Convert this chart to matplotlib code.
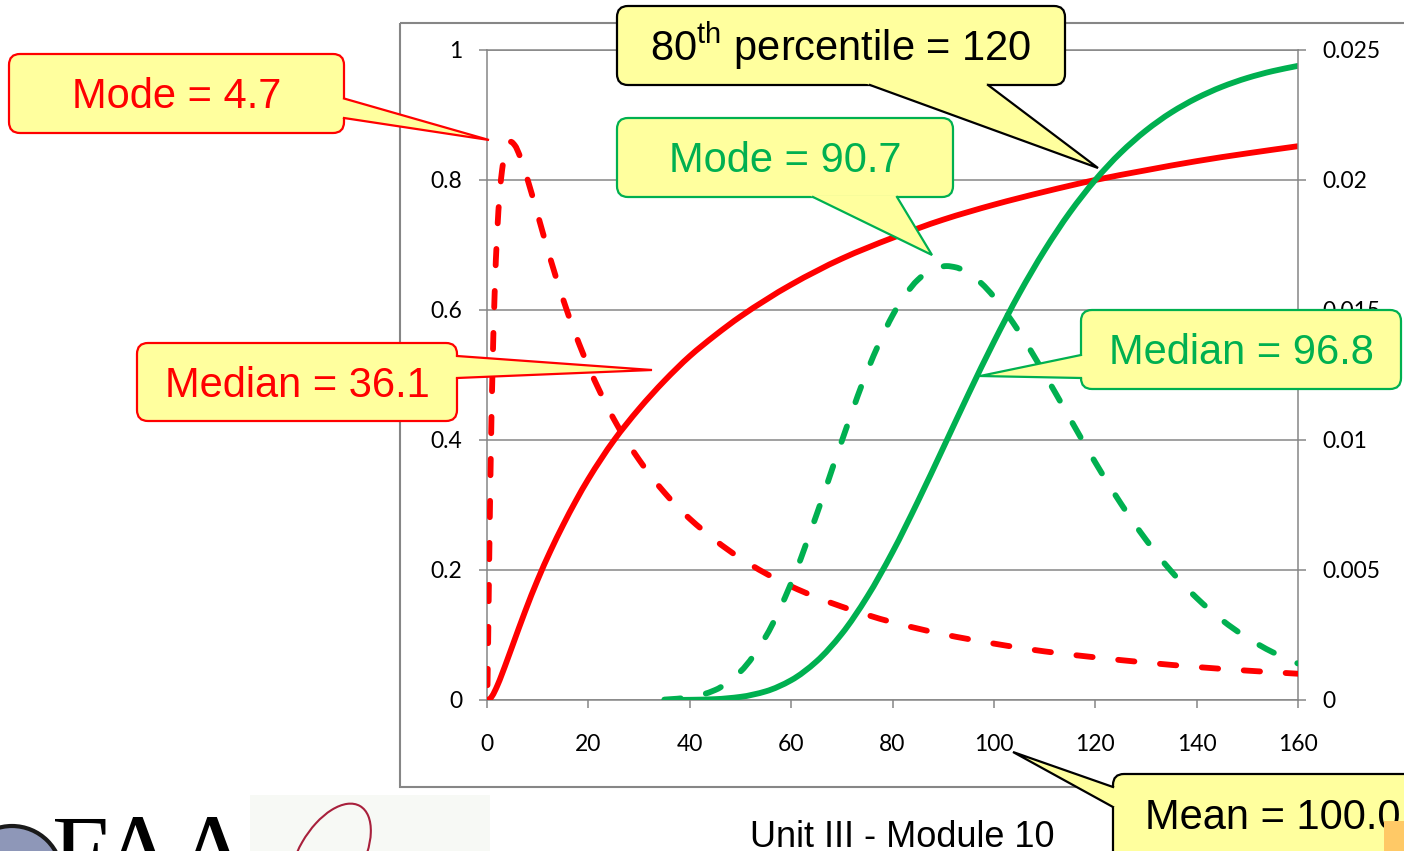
import matplotlib
matplotlib.use('Agg')
import matplotlib.pyplot as plt
import matplotlib.transforms as mtransforms
from matplotlib.patches import FancyBboxPatch, Polygon, Rectangle, Circle, Arc, PathPatch
from matplotlib.lines import Line2D
from matplotlib.path import Path

# ---------------- data ----------------
x_ticks = [0, 20, 40, 60, 80, 100, 120, 140, 160]
x_tick_labels = ["0", "20", "40", "60", "80", "100", "120", "140", "160"]
left_ticks = [0, 0.2, 0.4, 0.6, 0.8, 1]
left_tick_labels = ["0", "0.2", "0.4", "0.6", "0.8", "1"]
right_ticks = [0, 0.005, 0.01, 0.015, 0.02, 0.025]
right_tick_labels = ["0", "0.005", "0.01", "0.015", "0.02", "0.025"]

# red distribution: cumulative (left axis) and density (right axis)
red_cdf_x = [0, 0.5, 1, 2, 3, 4, 5, 7.5, 10, 12.5, 15, 17.5, 20, 25, 30, 35, 40, 45, 50,
             60, 70, 80, 90, 100, 110, 120, 130, 140, 150, 160]
red_cdf = [0, 0.0014, 0.006, 0.0214, 0.0408, 0.0617, 0.083, 0.136, 0.185, 0.229, 0.269,
           0.306, 0.340, 0.399, 0.448, 0.491, 0.529, 0.561, 0.590, 0.639, 0.679, 0.711,
           0.739, 0.762, 0.782, 0.800, 0.815, 0.829, 0.841, 0.852]
red_pdf_x = [0.1, 0.2, 0.3, 0.5, 0.75, 1, 1.5, 2, 2.5, 3, 3.5, 4, 4.7, 5.5, 6.5, 8, 10,
             12.5, 15, 17.5, 20, 25, 30, 35, 40, 50, 60, 70, 80, 90, 100, 110, 120, 130,
             140, 150, 160]
red_pdf = [0.00057, 0.00187, 0.00336, 0.00627, 0.00940, 0.01194, 0.01559, 0.01795,
           0.01946, 0.02042, 0.02101, 0.02131, 0.02147, 0.02133, 0.02091, 0.02002,
           0.01867, 0.01697, 0.01542, 0.01404, 0.01283, 0.01081, 0.00924, 0.00798,
           0.00697, 0.00545, 0.00437, 0.00359, 0.00299, 0.00253, 0.00217, 0.00187,
           0.00164, 0.00144, 0.00127, 0.00113, 0.00101]

# green distribution
green_cdf_x = [35, 40, 45, 50, 55, 60, 65, 70, 75, 80, 85, 90, 95, 100, 105, 110, 115,
               120, 125, 130, 135, 140, 145, 150, 155, 160]
green_cdf = [0.0000, 0.0003, 0.0013, 0.0048, 0.0133, 0.0304, 0.0593, 0.1019, 0.1587,
             0.2275, 0.3054, 0.3878, 0.4709, 0.5509, 0.6252, 0.6918, 0.7502, 0.8000,
             0.8418, 0.8761, 0.9039, 0.9259, 0.9434, 0.9570, 0.9675, 0.9756]
green_pdf_x = [35, 40, 45, 50, 55, 60, 65, 70, 75, 80, 82.5, 85, 87.5, 90.7, 92.5, 95,
               97.5, 100, 105, 110, 115, 120, 125, 130, 135, 140, 145, 150, 155, 160]
green_pdf = [0.000016, 0.000097, 0.000383, 0.001093, 0.002441, 0.004493, 0.007116,
             0.009961, 0.012646, 0.014787, 0.015577, 0.016161, 0.016525, 0.016690,
             0.016640, 0.016416, 0.016032, 0.015509, 0.014154, 0.012538, 0.010828,
             0.009141, 0.007572, 0.006166, 0.004950, 0.003926, 0.003076, 0.002387,
             0.001839, 0.001404]

RED = "#FF0000"
GREEN = "#00B050"
GRAY = "#868686"
FILL = "#FFFF9E"

W, H = 1404, 851
plt.rcParams['mathtext.fontset'] = 'custom'
plt.rcParams['mathtext.rm'] = 'Liberation Sans'

fig = plt.figure(figsize=(W / 100, H / 100), dpi=100)
fig.patch.set_facecolor('white')
# pixel transform with origin at top-left
px = mtransforms.Affine2D().scale(1 / 100, -1 / 100).translate(0, H / 100) + fig.dpi_scale_trans

# outer chart frame
fig.patches.append(Rectangle((400, 22.5), 1020, 764.5, transform=px, fill=False,
                             ec=GRAY, lw=1.5, zorder=0.5))

ax = fig.add_axes([487 / W, 1 - 700 / H, 811 / W, 650 / H])
ax.set_xlim(0, 160)
ax.set_ylim(0, 1)
ax2 = ax.twinx()
ax2.set_ylim(0, 0.025)
ax.set_zorder(1)
ax2.set_zorder(2)
ax.patch.set_visible(False)
ax2.patch.set_visible(False)

for s in ['top', 'left', 'bottom']:
    ax.spines[s].set_color(GRAY)
    ax.spines[s].set_linewidth(1.1)
ax.spines['right'].set_visible(False)
for s in ['top', 'left', 'bottom']:
    ax2.spines[s].set_visible(False)
ax2.spines['right'].set_color(GRAY)
ax2.spines['right'].set_linewidth(1.1)

ax.set_xticks(x_ticks)
ax.set_xticklabels(x_tick_labels)
ax.set_yticks(left_ticks)
ax.set_yticklabels(left_tick_labels)
ax2.set_yticks(right_ticks)
ax2.set_yticklabels(right_tick_labels)

for lab in ax.get_xticklabels() + ax.get_yticklabels() + ax2.get_yticklabels():
    lab.set_fontfamily('Lato')
    lab.set_fontsize(16.5)

ax.tick_params(axis='x', direction='out', length=5.8, width=1.1, color=GRAY, pad=19)
ax.tick_params(axis='y', direction='out', length=5.8, width=1.1, color=GRAY, pad=12)
ax2.tick_params(axis='y', direction='out', length=5.8, width=1.1, color=GRAY, pad=12)
ax.yaxis.grid(True, color=GRAY, lw=1.1)
ax.set_axisbelow(True)


def smooth_path(xs, ys):
    """Smoothed line through the data points (cubic Hermite / Bezier segments)."""
    n = len(xs)
    h = [xs[i + 1] - xs[i] for i in range(n - 1)]
    d = [(ys[i + 1] - ys[i]) / h[i] for i in range(n - 1)]
    m = [0.0] * n
    m[0], m[-1] = d[0], d[-1]
    for k in range(1, n - 1):
        if d[k - 1] * d[k] <= 0:
            m[k] = 0.0
        else:
            w1 = 2 * h[k] + h[k - 1]
            w2 = h[k] + 2 * h[k - 1]
            m[k] = (w1 + w2) / (w1 / d[k - 1] + w2 / d[k])
    verts = [(xs[0], ys[0])]
    codes = [Path.MOVETO]
    for i in range(n - 1):
        verts += [(xs[i] + h[i] / 3, ys[i] + m[i] * h[i] / 3),
                  (xs[i + 1] - h[i] / 3, ys[i + 1] - m[i + 1] * h[i] / 3),
                  (xs[i + 1], ys[i + 1])]
        codes += [Path.CURVE4] * 3
    return Path(verts, codes)


LW = 4.2
DASH = (0, (2.8, 4.4))
ax.add_patch(PathPatch(smooth_path(red_cdf_x, red_cdf), fill=False, ec=RED, lw=LW,
                       capstyle='round', joinstyle='round', zorder=3))
ax.add_patch(PathPatch(smooth_path(green_cdf_x, green_cdf), fill=False, ec=GREEN, lw=LW,
                       capstyle='round', joinstyle='round', zorder=3))
ax2.add_patch(PathPatch(smooth_path(red_pdf_x, red_pdf), fill=False, ec=RED, lw=LW,
                        linestyle=DASH, capstyle='round', joinstyle='round', zorder=3))
ax2.add_patch(PathPatch(smooth_path(green_pdf_x, green_pdf), fill=False, ec=GREEN, lw=LW,
                        linestyle=DASH, capstyle='round', joinstyle='round', zorder=3))


def callout(box, b1, b2, tip, text, color, tx=None, ha='center', fs=30):
    x0, y0, x1, y1 = box
    fig.patches.append(FancyBboxPatch((x0, y0), x1 - x0, y1 - y0,
                                      boxstyle='round,pad=0,rounding_size=11',
                                      transform=px, fc=FILL, ec=color, lw=1.6, zorder=10))
    e = 0.03
    b1e = (b1[0] + (b1[0] - tip[0]) * e, b1[1] + (b1[1] - tip[1]) * e)
    b2e = (b2[0] + (b2[0] - tip[0]) * e, b2[1] + (b2[1] - tip[1]) * e)
    fig.patches.append(Polygon([b1e, tip, b2e], closed=True, transform=px, fc=FILL,
                               ec='none', zorder=11))
    fig.lines.append(Line2D([b1[0], tip[0], b2[0]], [b1[1], tip[1], b2[1]], transform=px,
                            color=color, lw=1.6, zorder=12, solid_joinstyle='miter'))
    if tx is None:
        cx = (x0 + x1) / 2
        cy = (y0 + y1) / 2 + 0.358 * fs * 100 / 72
    else:
        cx, cy = tx
    fig.text(cx, cy, text, transform=px, ha=ha, va='baseline', color=color,
             fontsize=fs, family='Liberation Sans', zorder=13)


callout((9, 54, 344, 133), (344, 98.5), (344, 118), (489, 140), "Mode = 4.7", RED)
callout((617, 6, 1065, 85), (870, 85), (988, 85), (1098, 168),
        r"80$^{\mathregular{th}}$ percentile = 120", "black")
callout((617, 118, 953, 197), (813, 197), (897, 197), (932, 255), "Mode = 90.7", GREEN)
callout((137, 343, 457, 421), (457, 356), (457, 378), (652, 370), "Median = 36.1", RED)
callout((1081, 310, 1401, 389), (1081, 355), (1081, 378), (980, 376), "Median = 96.8", GREEN)
callout((1113, 774, 1460, 920), (1113, 787), (1113, 807), (1013, 752), "Mean = 100.0",
        "black", tx=(1145, 829), ha='left')

# orange square partly covering the last digit
fig.patches.append(Rectangle((1384, 821), 40, 40, transform=px, fc='#FFC966', ec='none',
                             zorder=14))

# footer text
fig.text(750, 847, "Unit III - Module 10", transform=px, ha='left', va='baseline',
         fontsize=26, family='Liberation Sans', color='black', zorder=5)

# logo fragments (bottom-left)
fig.patches.append(Rectangle((250, 795), 240, 60, transform=px, fc='#F7F9F5', ec='none',
                             zorder=1))
fig.patches.append(Circle((12, 876), 50, transform=px, fc='#8E97B8', ec='#1A1A1A', lw=3,
                          zorder=2))
fig.text(52, 886, "FAA", transform=px, ha='left', va='baseline', fontsize=74,
         family='Liberation Serif', color='black', zorder=3)
fig.patches.append(Arc((330, 858), 64, 120, angle=30, theta1=0, theta2=360,
                       transform=px, color='#A8203C', lw=1.5, zorder=3))

fig.savefig('out.png', dpi=100)
